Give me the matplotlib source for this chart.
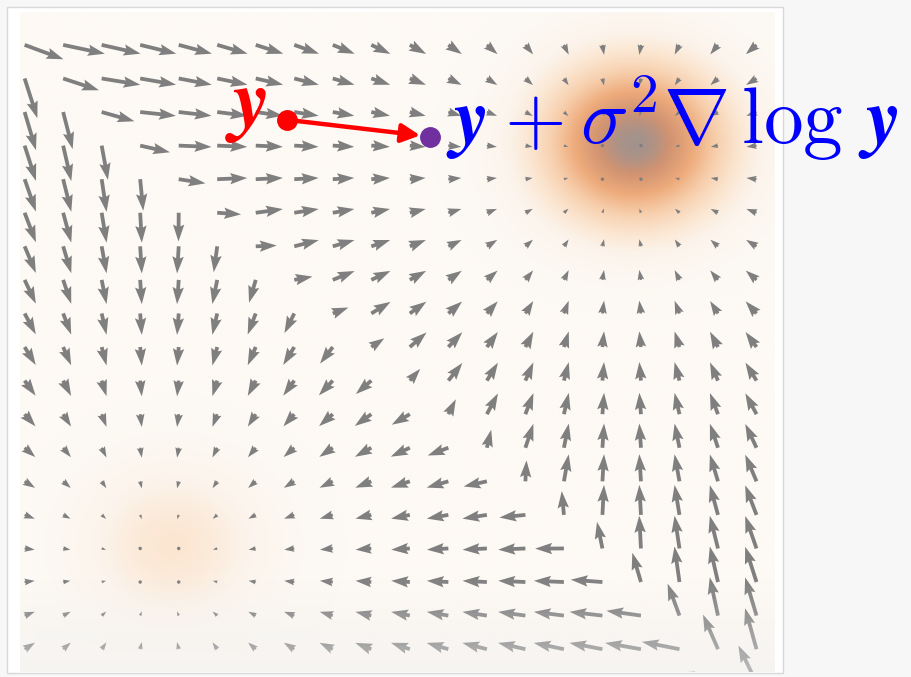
import numpy as np
import matplotlib
matplotlib.use("Agg")
import matplotlib.pyplot as plt
from matplotlib.colors import LinearSegmentedColormap
from matplotlib.patches import Rectangle

plt.rcParams['mathtext.fontset'] = 'cm'

# -----------------------------
# DATA
# -----------------------------
# vector field grid (index units, row 0 is the top row)
grid_cols = np.arange(20)
grid_rows = np.arange(20)

# two-component gaussian mixture
mix_means = [(15.5, 3.5), (3.5, 15.5)]
mix_weights = [0.82, 0.18]
mix_var = 2.5

# annotated update step: y and y + sigma^2 * score
point_y = (6.8, 2.23)
point_next = (10.52, 2.73)

label_y = r'$\mathbfit{y}$'
label_next = r'$\mathbfit{y}\:+\:\sigma^2\nabla\,\log\,\mathbfit{y}$'

# -----------------------------
# MIXTURE HELPERS
# -----------------------------
def components(X, Y):
    out = []
    for (mx, my), w in zip(mix_means, mix_weights):
        d2 = (X - mx) ** 2 + (Y - my) ** 2
        out.append(w * np.exp(-d2 / (2 * mix_var)) / (2 * np.pi * mix_var))
    return out


X, Y = np.meshgrid(grid_cols, grid_rows)
comps = components(X, Y)
total = sum(comps)
U = sum(c * (m[0] - X) for c, m in zip(comps, mix_means)) / total / mix_var
V = sum(c * (m[1] - Y) for c, m in zip(comps, mix_means)) / total / mix_var

# density on a fine grid for the background
xlim = (-0.12, 19.48)
ylim = (18.68, -0.98)
fx = np.linspace(xlim[0], xlim[1], 300)
fy = np.linspace(ylim[1], ylim[0], 300)
FX, FY = np.meshgrid(fx, fy)
dens = sum(components(FX, FY))
dens = dens / dens.max()

cmap = LinearSegmentedColormap.from_list(
    "blob",
    [(0.0, "#fdf9f4"), (0.1, "#fcf4ec"), (0.22, "#fbe6d1"),
     (0.4, "#f7cfad"), (0.62, "#eeab7b"), (0.85, "#d09372"),
     (1.0, "#a3928c")])

# -----------------------------
# FIGURE
# -----------------------------
fig = plt.figure(figsize=(9.12, 6.77), dpi=100)
fig.patch.set_facecolor("#f7f7f7")
W, H = 912, 677
fig.patches.append(Rectangle((7 / W, 4 / H), 776 / W, 666 / H,
                             transform=fig.transFigure, facecolor="white",
                             edgecolor="#d8d8d8", lw=1, zorder=-5))

ax = fig.add_axes([20 / W, 5 / H, 755 / W, 660 / H])
ax.set_facecolor("#fdf9f4")

# shifted slightly relative to the arrow grid
off_x, off_y = 0.35, -0.6
ax.imshow(dens, cmap=cmap, vmin=0, vmax=1, aspect="auto", origin="upper",
          interpolation="bilinear", zorder=0,
          extent=(fx[0] + off_x, fx[-1] + off_x, fy[-1] + off_y, fy[0] + off_y))

ax.quiver(X, Y, U, V, angles="xy", scale_units="dots", scale=0.14,
          pivot="tail", color="#7f7f7f", width=0.005,
          headwidth=3, headlength=4.5, headaxislength=4, zorder=2)

# haze along the bottom edge
haze = np.zeros((100, 2, 4))
haze[..., :3] = 0.94
haze[..., 3] = np.clip(np.linspace(0, 1, 100) - 0.86, 0, None)[:, None] * 3.5
ax.imshow(haze, extent=(0, 1, 0, 1), origin="upper", aspect="auto",
          transform=ax.transAxes, zorder=3)

ax.set_xlim(*xlim)
ax.set_ylim(*ylim)
ax.set_xticks([])
ax.set_yticks([])
for s in ax.spines.values():
    s.set_visible(False)

# -----------------------------
# UPDATE STEP ANNOTATION
# -----------------------------
ax.annotate("", xy=point_next, xytext=point_y,
            arrowprops=dict(arrowstyle="-|>", color="red", lw=3.2,
                            mutation_scale=28, shrinkA=0, shrinkB=7),
            zorder=5)
ax.plot(*point_y, "o", color="red", ms=14, zorder=6)
ax.plot(*point_next, "o", color="#7030a0", ms=14, zorder=6)
ax.text(point_y[0] - 0.5, point_y[1] + 0.18, label_y, color="red",
        fontsize=60, ha="right", va="baseline", zorder=6)
ax.text(point_next[0] + 0.42, point_next[1] + 0.22, label_next, color="blue",
        fontsize=57, ha="left", va="baseline", zorder=6, clip_on=False)

fig.savefig("out.png", dpi=100, facecolor=fig.get_facecolor())
